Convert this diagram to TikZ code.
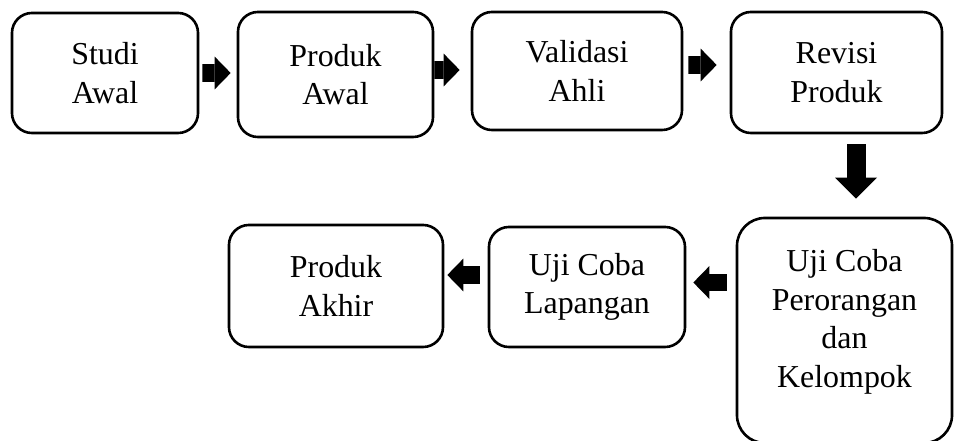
\documentclass[tikz,border=0pt]{standalone}
\usepackage{fontspec}
\setmainfont{Liberation Serif}
\usetikzlibrary{arrows.meta}

\begin{document}
\begin{tikzpicture}[x=0.025cm,y=0.025cm,
		tahap/.style={draw=black, line width=0.065cm, rounded corners=0.5cm, fill=white,
			align=center, inner sep=0pt, font=\fontsize{22.7}{27.5}\selectfont},
		panah/.style={line width=0.44cm, -{Triangle[length=0.4cm,width=0.82cm,line width=0pt]}}]
			\useasboundingbox (0,0) rectangle (955,441);
			% baris atas
			\node[tahap, minimum width=4.65cm, minimum height=3cm] (studi) at (105,368) {Studi\\Awal};
			\node[tahap, minimum width=4.875cm, minimum height=3.125cm] (produk) at (335.5,366.5) {Produk\\Awal};
			\node[tahap, minimum width=5.25cm, minimum height=2.95cm] (validasi) at (577,370) {Validasi\\Ahli};
			\node[tahap, minimum width=5.275cm, minimum height=3.025cm] (revisi) at (836.5,368.5) {Revisi\\Produk};
			% baris bawah
			\node[tahap, rounded corners=0.7cm, text depth=0.6cm, minimum width=5.375cm, minimum height=5.625cm] (perorangan) at (844.5,110.5) {Uji Coba\\Perorangan\\dan\\Kelompok};
			\node[tahap, minimum width=4.9cm, minimum height=3cm] (lapangan) at (587,154) {Uji Coba\\Lapangan};
			\node[tahap, minimum width=5.35cm, minimum height=3.05cm] (akhir) at (336,155) {Produk\\Akhir};
			% panah
			\draw[panah, shorten <=0.075cm, shorten >=0.15cm] ([shift={(0,0)}]studi.east) -- ([shift={(0,1.5)}]produk.west);
			\draw[panah, shorten >=0.275cm] ([shift={(0,4.5)}]produk.east) -- ([shift={(0,1)}]validasi.west);
			\draw[panah, shorten <=0.125cm, shorten >=0.325cm] ([shift={(0,6)}]validasi.east) -- ([shift={(0,7.5)}]revisi.west);
			\draw[panah, line width=0.475cm, -{Triangle[length=0.525cm,width=1.05cm,line width=0pt]},
				shorten <=0.25cm, shorten >=0.45cm] ([shift={(19.5,0)}]revisi.south) -- ([shift={(11.5,0)}]perorangan.north);
			\draw[panah, shorten <=0.225cm, shorten >=0.175cm] ([shift={(0,48)}]perorangan.west) -- ([shift={(0,4.5)}]lapangan.east);
			\draw[panah, shorten <=0.2cm, shorten >=0.075cm] ([shift={(0,12)}]lapangan.west) -- ([shift={(0,11)}]akhir.east);
		\end{tikzpicture}
\end{document}
